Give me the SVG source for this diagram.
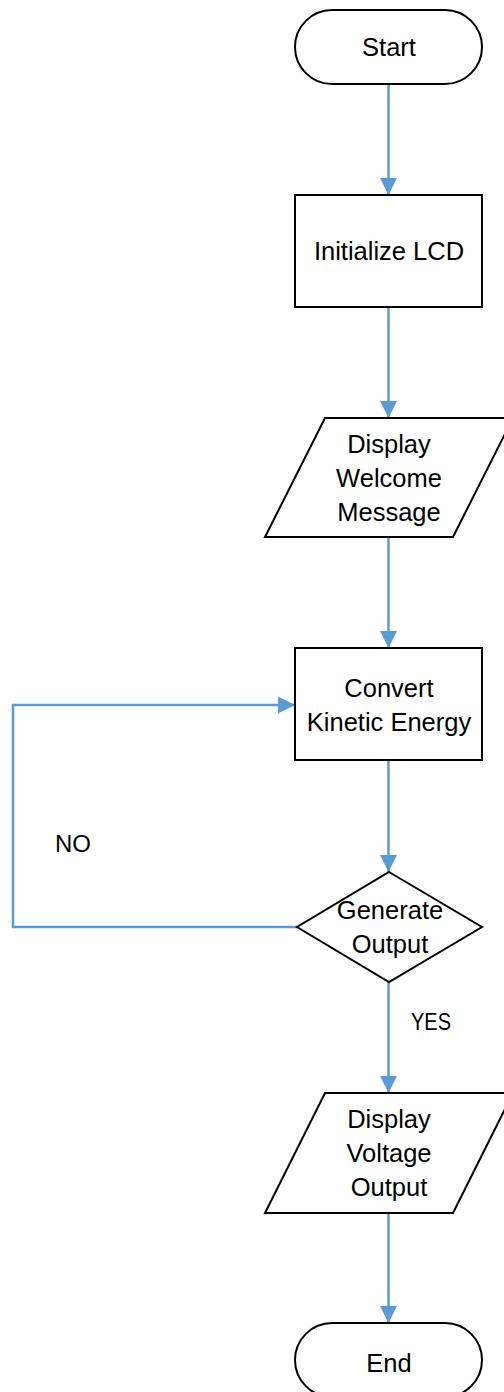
<svg xmlns="http://www.w3.org/2000/svg" width="504" height="1392" viewBox="0 0 504 1392">
<style>
.s{fill:#fff;stroke:#000;stroke-width:2}
.t{font-family:"Liberation Sans",Arial,sans-serif;font-size:25.5px;fill:#000;text-anchor:middle}
.l{font-family:"Liberation Sans",Arial,sans-serif;font-size:24px;fill:#000}
.c{fill:none;stroke:#5B9BD5;stroke-width:2.5;marker-end:url(#ah)}
</style>
<defs>
<marker id="ah" markerUnits="userSpaceOnUse" markerWidth="18" markerHeight="18" refX="17" refY="8.5" orient="auto">
<path d="M0,0 L17,8.5 L0,17 z" fill="#5B9BD5"/>
</marker>
</defs>
<rect width="504" height="1392" fill="#fff"/>
<g id="connectors">
<path class="c" d="M388.5,84 V195"/>
<path class="c" d="M388.5,307 V418"/>
<path class="c" d="M388.5,537 V648"/>
<path class="c" d="M388.5,760 V872"/>
<path class="c" d="M388.5,982 V1093"/>
<path class="c" d="M388.5,1213 V1323"/>
<path class="c" d="M297,927 H13 V705 H295"/>
</g>
<g id="start"><rect class="s" x="295" y="10" width="187" height="74" rx="37"/><text class="t" x="389" y="56">Start</text></g>
<g id="init"><rect class="s" x="295" y="195" width="187" height="112"/><text class="t" x="389" y="260">Initialize LCD</text></g>
<g id="welcome"><polygon class="s" points="325,418 513,418 453,537 265,537"/><text class="t" x="389" y="453">Display</text><text class="t" x="389" y="487">Welcome</text><text class="t" x="389" y="521">Message</text></g>
<g id="convert"><rect class="s" x="295" y="648" width="187" height="112"/><text class="t" x="389" y="697">Convert</text><text class="t" x="389" y="731">Kinetic Energy</text></g>
<g id="generate"><polygon class="s" points="389,872 482,927 389,982 297,927"/><text class="t" x="390" y="919">Generate</text><text class="t" x="390" y="953">Output</text></g>
<g id="voltage"><polygon class="s" points="325,1093 513,1093 453,1213 265,1213"/><text class="t" x="389" y="1128">Display</text><text class="t" x="389" y="1162">Voltage</text><text class="t" x="389" y="1196">Output</text></g>
<g id="end"><rect class="s" x="295" y="1323" width="187" height="74" rx="37"/><text class="t" x="389" y="1372">End</text></g>
<g id="labels"><text class="l" x="55" y="852">NO</text><text class="l" x="411" y="1030" textLength="40" lengthAdjust="spacingAndGlyphs">YES</text></g>
</svg>
